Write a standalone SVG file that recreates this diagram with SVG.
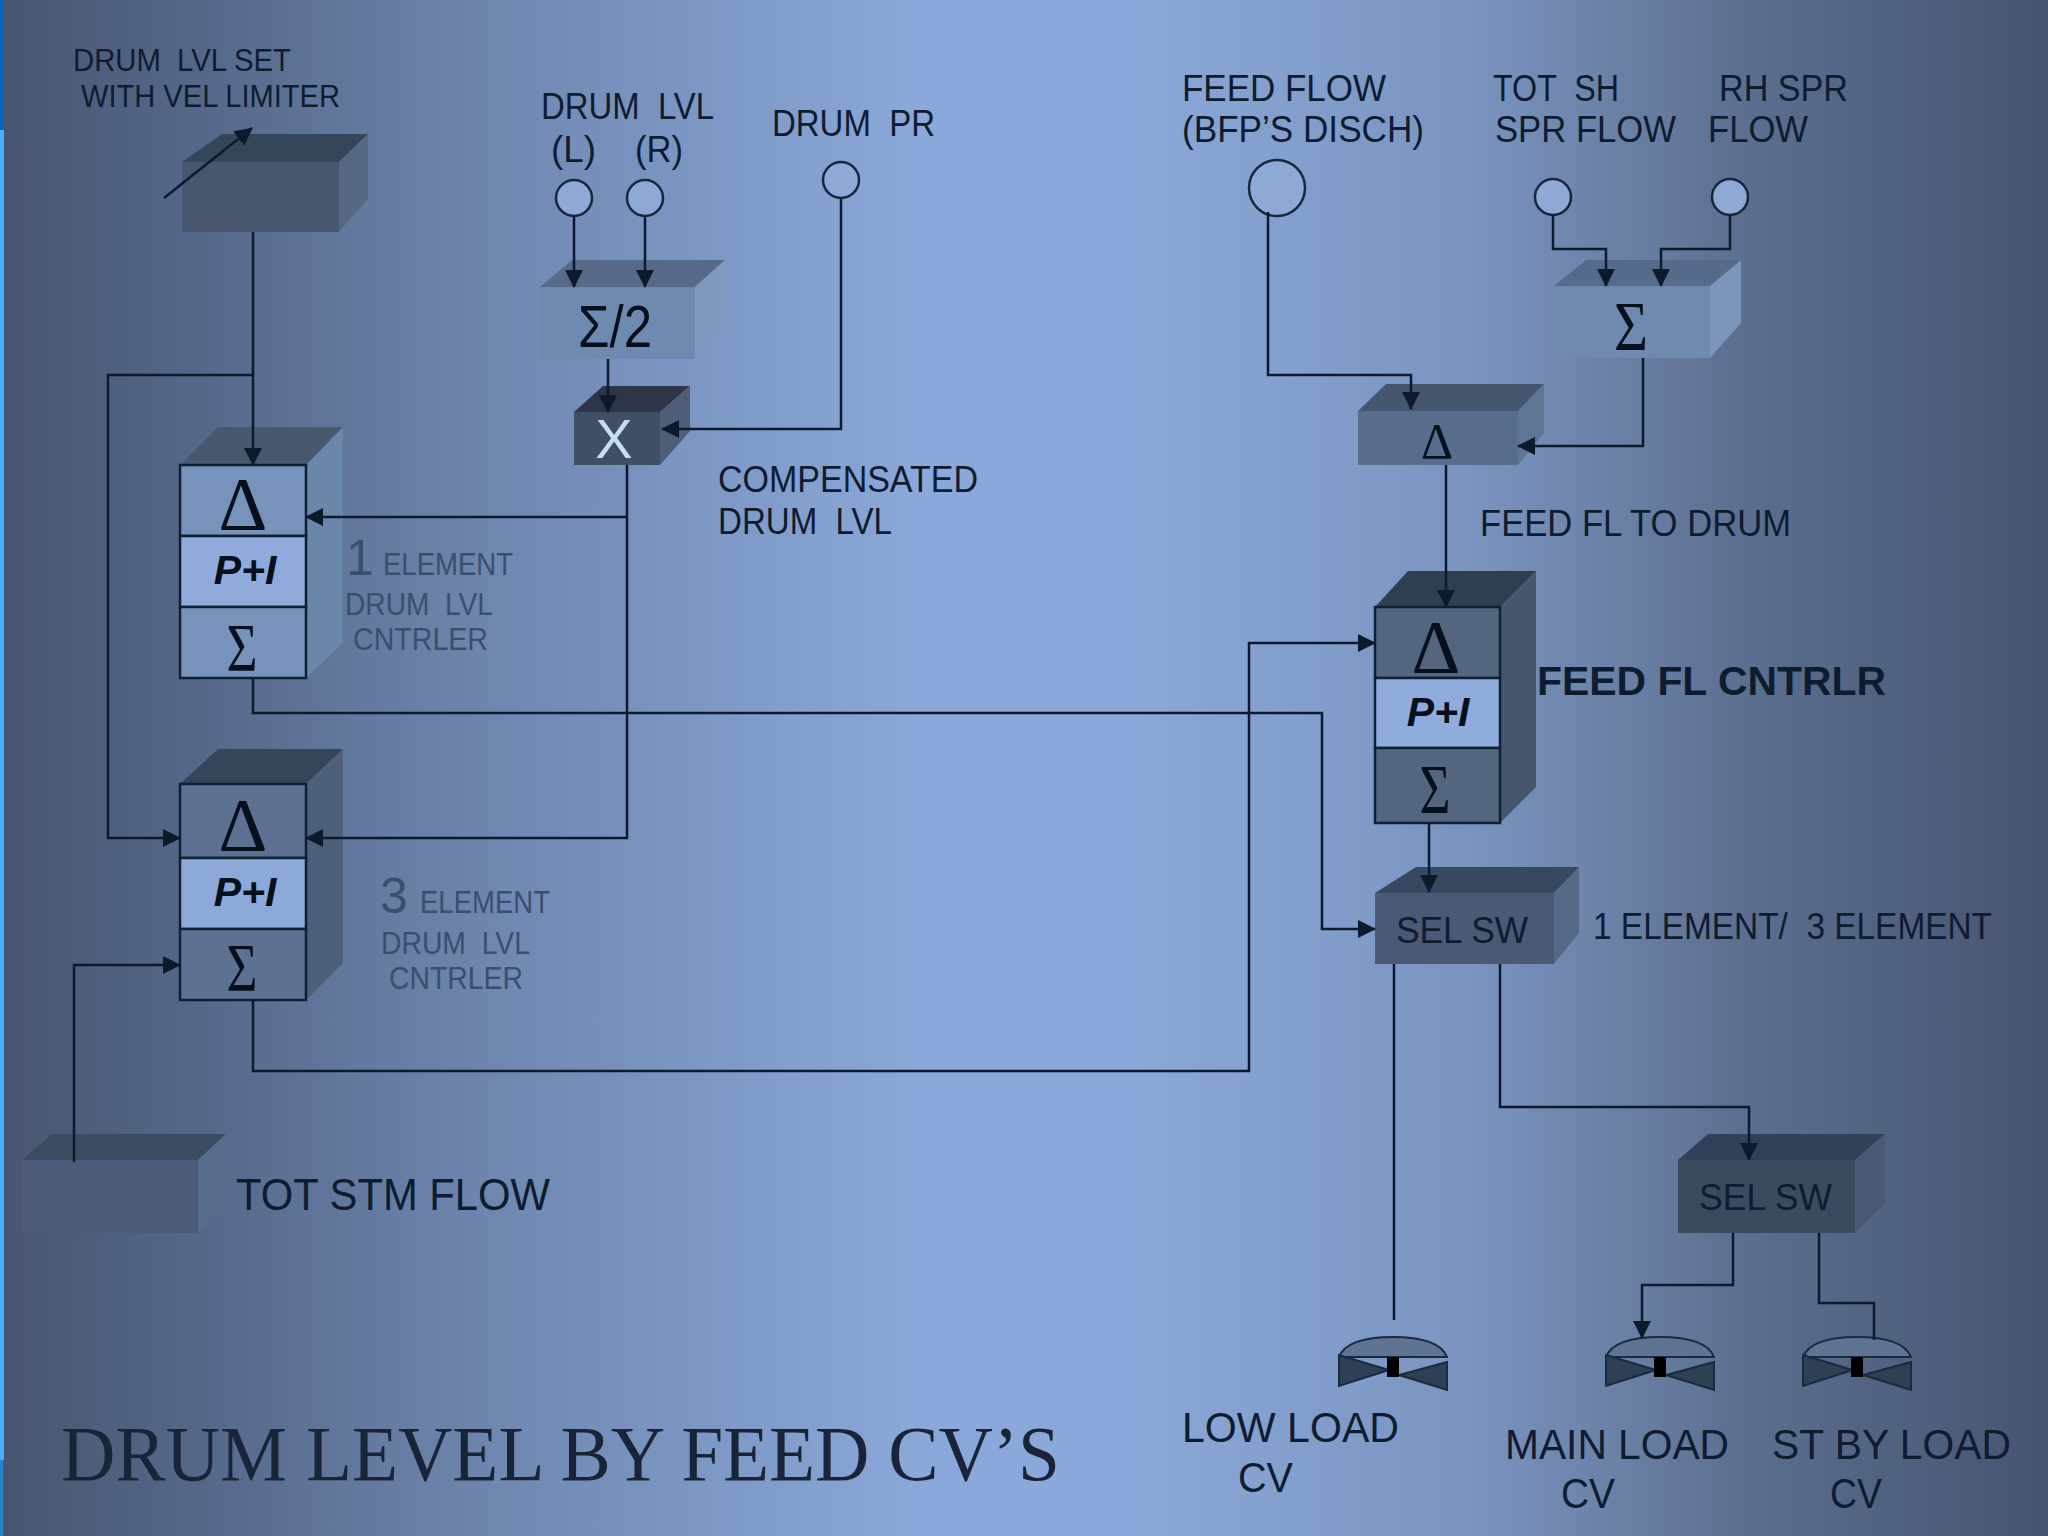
<svg xmlns="http://www.w3.org/2000/svg" width="2048" height="1536" viewBox="0 0 2048 1536">
<style>
text{font-family:"Liberation Sans",Arial,sans-serif;fill:#0f1c30;white-space:pre}
.l33{font-size:36px}.l42{font-size:42px}.l29{font-size:31px}.dim{fill:#3a4e70;font-size:32px}.big{fill:#3a4e70;font-size:50px}
.sym{font-family:"Liberation Serif","Times New Roman",serif;fill:#05101c;text-anchor:middle}
.pi{font-weight:bold;font-style:italic;font-size:41px;fill:#05101c;text-anchor:middle}
.cell{stroke:#0f2034;stroke-width:2.5}
.con{fill:none;stroke:#0c1a2c;stroke-width:2.5}
.circ{fill:#8ea9d6;stroke:#17273c;stroke-width:2.5}
.vd{fill:#2f3f54;stroke:#1a2a40;stroke-width:2}
.vt{stroke:#1a2a40;stroke-width:2}
</style>
<defs>
<linearGradient id="bg" x1="0" y1="0" x2="1" y2="0">
<stop offset="0" stop-color="#47556f"/><stop offset=".1" stop-color="#56688a"/><stop offset=".25" stop-color="#7089b2"/><stop offset=".45" stop-color="#8aa8d9"/><stop offset=".55" stop-color="#8aa8d9"/><stop offset=".72" stop-color="#7a94bf"/><stop offset=".85" stop-color="#5c6f90"/><stop offset="1" stop-color="#465470"/>
</linearGradient>
<marker id="a" markerUnits="userSpaceOnUse" markerWidth="18" markerHeight="18" refX="17" refY="9" orient="auto"><path d="M0 0L18 9L0 18Z" fill="#0c1a2c"/></marker>
<g id="valve">
<path class="vt" d="M0 20Q8 0 54 0Q100 0 108 20Z" fill="#5f7392"/>
<path class="vd" d="M0 18L50 33L0 49Z"/><path class="vd" d="M108 25L60 38L108 53Z"/>
<rect x="48" y="20" width="12" height="20" fill="#000"/>
</g>
</defs>
<rect width="2048" height="1536" fill="url(#bg)"/>
<rect x="0" y="0" width="4" height="130" fill="#0b60b0"/><rect x="0" y="130" width="4" height="1330" fill="#4db0ff"/><rect x="0" y="1460" width="3" height="76" fill="#2f7fc9"/>

<g id="set-box"><path d="M182 162L222 134H368L339 162Z" fill="#36465a"/><path d="M339 162L368 134V199L339 232Z" fill="#566882"/><rect x="182" y="162" width="157" height="70" fill="#48566f"/>
<text class="l29" x="73" y="71" textLength="218" lengthAdjust="spacingAndGlyphs">DRUM  LVL SET</text><text class="l29" x="81" y="107" textLength="259" lengthAdjust="spacingAndGlyphs">WITH VEL LIMITER</text></g>

<g id="avg-box"><path d="M540 287L572 260H725L695 287Z" fill="#576a8a"/><path d="M695 287L725 260V325L695 359Z" fill="#7f98bd"/><rect x="540" y="287" width="155" height="72" fill="#6f8ab0"/>
<text x="578" y="347" font-size="60" style="fill:#05101c" textLength="74" lengthAdjust="spacingAndGlyphs">Σ/2</text></g>

<g id="mult-box"><path d="M574 412L603 386H690L660 412Z" fill="#2e3548"/><path d="M660 412L690 386V431L660 465Z" fill="#4f5e78"/><rect x="574" y="412" width="86" height="53" fill="#3f4f66"/>
<text x="614" y="458" font-size="56" text-anchor="middle" style="fill:#c9dcf5">X</text></g>

<g id="ctrl-1"><path d="M180 465L218 427H343L306 465Z" fill="#48586f"/><path d="M306 465L343 427V643L306 678Z" fill="#6a86ab"/>
<rect class="cell" x="180" y="465" width="126" height="71" fill="#7793bb"/><rect class="cell" x="180" y="536" width="126" height="71" fill="#8faadb"/><rect class="cell" x="180" y="607" width="126" height="71" fill="#7793bb"/>
<text class="sym" x="243" y="530" font-size="76">Δ</text><text class="pi" x="245" y="584">P+I</text><text class="sym" x="242" y="670" font-size="68" textLength="31" lengthAdjust="spacingAndGlyphs">Σ</text>
<text class="big" x="346" y="575">1</text><text class="dim" x="383" y="575" textLength="130" lengthAdjust="spacingAndGlyphs">ELEMENT</text><text class="dim" x="345" y="615" textLength="148" lengthAdjust="spacingAndGlyphs">DRUM  LVL</text><text class="dim" x="353" y="650" textLength="135" lengthAdjust="spacingAndGlyphs">CNTRLER</text></g>

<g id="ctrl-3"><path d="M180 784L218 749H343L306 784Z" fill="#35465a"/><path d="M306 784L343 749V963L306 1000Z" fill="#4e5f7a"/>
<rect class="cell" x="180" y="784" width="126" height="74" fill="#5d7292"/><rect class="cell" x="180" y="858" width="126" height="71" fill="#8ca9d8"/><rect class="cell" x="180" y="929" width="126" height="71" fill="#5d7292"/>
<text class="sym" x="243" y="851" font-size="76">Δ</text><text class="pi" x="245" y="906">P+I</text><text class="sym" x="242" y="990" font-size="68" textLength="31" lengthAdjust="spacingAndGlyphs">Σ</text>
<text class="big" x="380" y="913">3</text><text class="dim" x="420" y="913" textLength="130" lengthAdjust="spacingAndGlyphs">ELEMENT</text><text class="dim" x="381" y="954" textLength="149" lengthAdjust="spacingAndGlyphs">DRUM  LVL</text><text class="dim" x="389" y="989" textLength="134" lengthAdjust="spacingAndGlyphs">CNTRLER</text></g>

<g id="stm-box"><path d="M22 1160L52 1134H226L198 1160Z" fill="#3c4b62"/><path d="M198 1160L226 1134V1203L198 1233Z" fill="#586c8c"/><rect x="22" y="1160" width="176" height="73" fill="#4c5c78"/>
<text x="236" y="1210" font-size="44" textLength="314" lengthAdjust="spacingAndGlyphs">TOT STM FLOW</text></g>

<g id="delta-box"><path d="M1358 411L1386 384H1544L1518 411Z" fill="#46566f"/><path d="M1518 411L1544 384V433L1518 465Z" fill="#5f7595"/><rect x="1358" y="411" width="160" height="54" fill="#586c8c"/>
<text class="sym" x="1437" y="458" font-size="50">Δ</text></g>

<g id="sum-box"><path d="M1554 286L1586 260H1741L1710 286Z" fill="#566a8c"/><path d="M1710 286L1741 260V323L1710 358Z" fill="#7c95bd"/><rect x="1554" y="286" width="156" height="72" fill="#7089b0"/>
<text class="sym" x="1631" y="350" font-size="70" textLength="34" lengthAdjust="spacingAndGlyphs">Σ</text></g>

<g id="feed-ctrl"><path d="M1375 607L1408 571H1536L1500 607Z" fill="#2f3f4f"/><path d="M1500 607L1536 571V787L1500 823Z" fill="#46566f"/>
<rect class="cell" x="1375" y="607" width="125" height="71" fill="#54657f"/><rect class="cell" x="1375" y="678" width="125" height="70" fill="#90acdc"/><rect class="cell" x="1375" y="748" width="125" height="75" fill="#54657f"/>
<text class="sym" x="1436" y="673" font-size="76">Δ</text><text class="pi" x="1438" y="726">P+I</text><text class="sym" x="1435" y="813" font-size="70" textLength="31" lengthAdjust="spacingAndGlyphs">Σ</text>
<text x="1537" y="695" font-size="41" font-weight="bold" textLength="349" lengthAdjust="spacingAndGlyphs">FEED FL CNTRLR</text></g>

<g id="sel-sw-1"><path d="M1375 893L1416 867H1579L1554 893Z" fill="#384860"/><path d="M1554 893L1579 867V933L1554 964Z" fill="#566a88"/><rect x="1375" y="893" width="179" height="71" fill="#4a5a76"/>
<text class="l33" x="1396" y="943" textLength="132" lengthAdjust="spacingAndGlyphs">SEL SW</text><text class="l33" x="1593" y="939" textLength="399" lengthAdjust="spacingAndGlyphs">1 ELEMENT/  3 ELEMENT</text></g>

<g id="sel-sw-2"><path d="M1678 1160L1708 1134H1885L1855 1160Z" fill="#33405a"/><path d="M1855 1160L1885 1134V1203L1855 1233Z" fill="#4a5a74"/><rect x="1678" y="1160" width="177" height="73" fill="#3c4a60"/>
<text class="l33" x="1699" y="1210" textLength="133" lengthAdjust="spacingAndGlyphs">SEL SW</text></g>

<g id="in-drum-l"><circle class="circ" cx="574" cy="198" r="18"/><text class="l33" x="541" y="119" textLength="173" lengthAdjust="spacingAndGlyphs">DRUM  LVL</text><text class="l33" x="551" y="162" textLength="45" lengthAdjust="spacingAndGlyphs">(L)</text></g>
<g id="in-drum-r"><circle class="circ" cx="645" cy="198" r="18"/><text class="l33" x="635" y="162" textLength="48" lengthAdjust="spacingAndGlyphs">(R)</text></g>
<g id="in-drum-pr"><circle class="circ" cx="841" cy="180" r="18"/><text class="l33" x="772" y="136" textLength="163" lengthAdjust="spacingAndGlyphs">DRUM  PR</text></g>
<g id="in-feed"><circle class="circ" cx="1277" cy="188" r="28"/><text class="l33" x="1182" y="101" textLength="204" lengthAdjust="spacingAndGlyphs">FEED FLOW</text><text class="l33" x="1182" y="142" textLength="242" lengthAdjust="spacingAndGlyphs">(BFP’S DISCH)</text></g>
<g id="in-sh"><circle class="circ" cx="1553" cy="197" r="18"/><text class="l33" x="1493" y="101" textLength="126" lengthAdjust="spacingAndGlyphs">TOT  SH</text><text class="l33" x="1495" y="142" textLength="181" lengthAdjust="spacingAndGlyphs">SPR FLOW</text></g>
<g id="in-rh"><circle class="circ" cx="1730" cy="197" r="18"/><text class="l33" x="1719" y="101" textLength="129" lengthAdjust="spacingAndGlyphs">RH SPR</text><text class="l33" x="1708" y="142" textLength="100" lengthAdjust="spacingAndGlyphs">FLOW</text></g>

<g id="lbl-comp"><text class="l33" x="718" y="492" textLength="260" lengthAdjust="spacingAndGlyphs">COMPENSATED</text><text class="l33" x="718" y="534" textLength="174" lengthAdjust="spacingAndGlyphs">DRUM  LVL</text></g>
<g id="lbl-feedfl"><text class="l33" x="1480" y="536" textLength="311" lengthAdjust="spacingAndGlyphs">FEED FL TO DRUM</text></g>

<g id="cv-low"><use href="#valve" x="1339" y="1337"/><text class="l42" x="1182" y="1442" textLength="217" lengthAdjust="spacingAndGlyphs">LOW LOAD</text><text class="l42" x="1238" y="1492" textLength="55" lengthAdjust="spacingAndGlyphs">CV</text></g>
<g id="cv-main"><use href="#valve" x="1606" y="1337"/><text class="l42" x="1505" y="1459" textLength="224" lengthAdjust="spacingAndGlyphs">MAIN LOAD</text><text class="l42" x="1561" y="1508" textLength="54" lengthAdjust="spacingAndGlyphs">CV</text></g>
<g id="cv-stby"><use href="#valve" x="1803" y="1337"/><text class="l42" x="1772" y="1459" textLength="239" lengthAdjust="spacingAndGlyphs">ST BY LOAD</text><text class="l42" x="1830" y="1508" textLength="52" lengthAdjust="spacingAndGlyphs">CV</text></g>

<g id="title"><text x="61" y="1480" font-size="78" textLength="999" lengthAdjust="spacingAndGlyphs" style="font-family:'Liberation Serif',serif;fill:#1a2438">DRUM LEVEL BY FEED CV’S</text></g>

<g id="connectors" class="con">
<path d="M164 198L252 128" marker-end="url(#a)"/>
<path d="M253 232V465" marker-end="url(#a)"/>
<path d="M253 375H108V838H180" marker-end="url(#a)"/>
<path d="M574 216V287" marker-end="url(#a)"/>
<path d="M645 216V287" marker-end="url(#a)"/>
<path d="M608 359V412" marker-end="url(#a)"/>
<path d="M841 198V429H662" marker-end="url(#a)"/>
<path d="M627 465V838H306" marker-end="url(#a)"/>
<path d="M627 517H306" marker-end="url(#a)"/>
<path d="M253 678V713H1322V929H1375" marker-end="url(#a)"/>
<path d="M253 1000V1071H1249V643H1375" marker-end="url(#a)"/>
<path d="M74 1162V965H180" marker-end="url(#a)"/>
<path d="M1268 212V375H1411V409" marker-end="url(#a)"/>
<path d="M1553 215V249H1606V286" marker-end="url(#a)"/>
<path d="M1730 215V249H1661V286" marker-end="url(#a)"/>
<path d="M1643 358V446H1518" marker-end="url(#a)"/>
<path d="M1446 465V607" marker-end="url(#a)"/>
<path d="M1429 823V892" marker-end="url(#a)"/>
<path d="M1394 964V1320"/>
<path d="M1500 964V1107H1749V1160" marker-end="url(#a)"/>
<path d="M1733 1233V1285H1642V1338" marker-end="url(#a)"/>
<path d="M1819 1233V1303H1874V1340"/>
</g>
</svg>
